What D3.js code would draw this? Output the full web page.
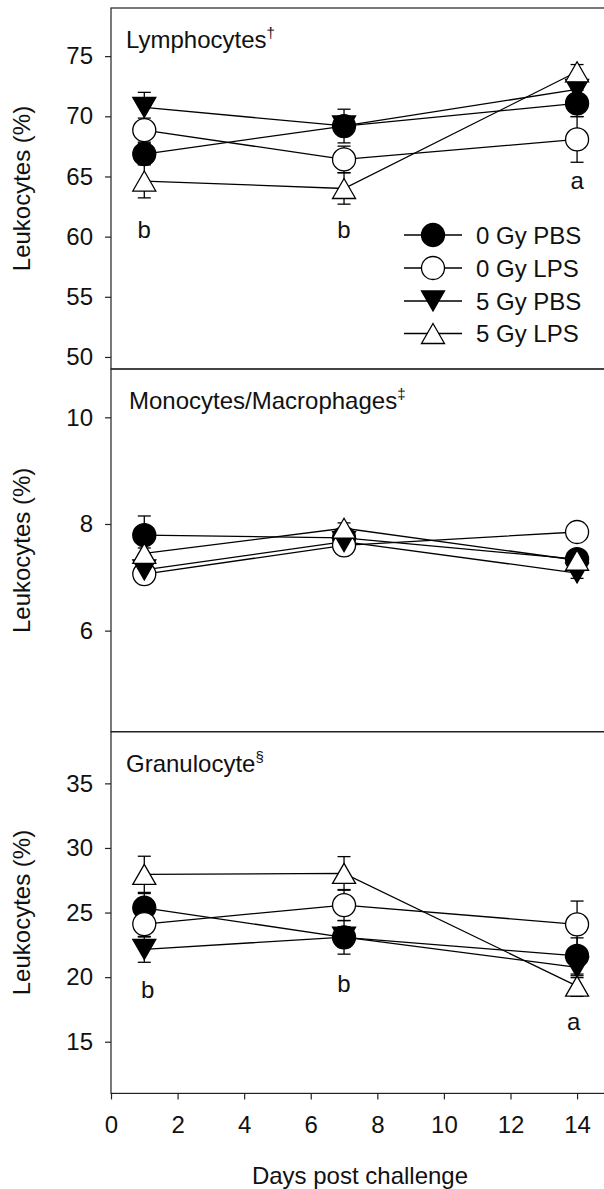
<!DOCTYPE html>
<html>
<head>
<meta charset="utf-8">
<script src="https://cdn.jsdelivr.net/npm/d3@7"></script>
<style>
  html, body { margin: 0; padding: 0; background: #fff; }
  svg { display: block; }
  text { font-family: "Liberation Sans", Arial, Helvetica, sans-serif; fill: #111; }
</style>
</head>
<body>
<svg id="chart" width="604" height="1189"></svg>
<script>
// ---- data -------------------------------------------------------------
const days = [1, 7, 14];
const groups = ["0 Gy PBS", "0 Gy LPS", "5 Gy PBS", "5 Gy LPS"];
const groupFill = ["#000", "#fff", "#000", "#fff"];
const groupShape = ["circle", "circle", "triDown", "triUp"];

// Lymphocytes (% of leukocytes), mean and SE per group, days 1 / 7 / 14
const lymphMean = [
  [66.86, 69.19, 71.07],
  [68.85, 66.42, 68.08],
  [70.74, 69.20, 72.23],
  [64.62, 64.00, 73.70]
];
const lymphSE = [
  [0.9, 1.4, 1.1],
  [1.0, 1.1, 1.9],
  [1.25, 0.8, 1.0],
  [1.4, 1.3, 0.6]
];

// Monocytes / macrophages
const monoMean = [
  [7.79, 7.74, 7.34],
  [7.06, 7.60, 7.85],
  [7.14, 7.67, 7.08],
  [7.45, 7.92, 7.32]
];
const monoSE = [
  [0.36, 0.1, 0.1],
  [0.1, 0.1, 0.1],
  [0.1, 0.1, 0.1],
  [0.1, 0.1, 0.1]
];

// Granulocytes
const granMean = [
  [25.37, 23.08, 21.64],
  [24.11, 25.58, 24.09],
  [22.15, 23.10, 20.76],
  [27.96, 28.03, 19.31]
];
const granSE = [
  [1.1, 1.3, 1.4],
  [1.0, 1.2, 1.8],
  [1.0, 0.8, 0.8],
  [1.4, 1.3, 0.8]
];

// axis ticks
const lymphTicks = [50, 55, 60, 65, 70, 75];
const monoTicks = [6, 8, 10];
const granTicks = [15, 20, 25, 30, 35];
const dayTicks = [0, 2, 4, 6, 8, 10, 12, 14];

// significance letters: [day, value, letter]
const lymphLetters = [[1, 59.9, "b"], [7, 59.9, "b"], [14, 64.0, "a"]];
const granLetters = [[1.1, 18.4, "b"], [7, 18.85, "b"], [13.9, 15.9, "a"]];

// ---- layout -----------------------------------------------------------
const svg = d3.select("#chart");
const left = 111, right = 603.7;
const x = d3.scaleLinear().domain([0, 14.8]).range([left, right]);

const panels = [
  { title: "Lymphocytes", sup: "\u2020", top: 8, bottom: 369, domain: [49, 79],
    ticks: lymphTicks, mean: lymphMean, se: lymphSE, letters: lymphLetters },
  { title: "Monocytes/Macrophages", sup: "\u2021", top: 369, bottom: 731.7, domain: [4.105, 10.906],
    ticks: monoTicks, mean: monoMean, se: monoSE, letters: [] },
  { title: "Granulocyte", sup: "\u00a7", top: 731.7, bottom: 1093.4, domain: [11, 39],
    ticks: granTicks, mean: granMean, se: granSE, letters: granLetters }
];

const R = 11.5;          // circle radius
const TW = 23, TH = 20;  // triangle width / height
const CAP = 6.5;         // half width of error-bar caps

function symbolPath(shape) {
  if (shape === "circle") return null;
  if (shape === "triUp") return `M0,${-TH / 2}L${TW / 2},${TH / 2}L${-TW / 2},${TH / 2}Z`;
  return `M0,${TH / 2}L${TW / 2},${-TH / 2}L${-TW / 2},${-TH / 2}Z`;
}

function drawMarker(g, shape, fill, cx, cy) {
  if (shape === "circle") {
    g.append("circle").attr("cx", cx).attr("cy", cy).attr("r", R)
      .attr("fill", fill).attr("stroke", "#000").attr("stroke-width", 1.3);
  } else {
    g.append("path").attr("d", symbolPath(shape))
      .attr("transform", `translate(${cx},${cy})`)
      .attr("fill", fill).attr("stroke", "#000").attr("stroke-width", 1.3)
      .attr("stroke-linejoin", "miter");
  }
}

panels.forEach((p, pi) => {
  const y = d3.scaleLinear().domain(p.domain).range([p.bottom, p.top]);
  const g = svg.append("g");

  // frame
  g.append("rect").attr("x", left).attr("y", p.top)
    .attr("width", right - left + 2).attr("height", p.bottom - p.top)
    .attr("fill", "none").attr("stroke", "#222").attr("stroke-width", 1.2);

  // y axis
  const ya = g.append("g").attr("transform", `translate(${left},0)`)
    .call(d3.axisLeft(y).tickValues(p.ticks).tickSize(6).tickPadding(12).tickFormat(d3.format("d")));
  ya.select(".domain").remove();
  ya.selectAll(".tick line").attr("stroke", "#222").attr("stroke-width", 1.2);
  ya.selectAll(".tick text").attr("font-size", 24)
    .attr("font-family", '"Liberation Sans", Arial, sans-serif').attr("fill", "#111");

  // y axis title
  g.append("text")
    .attr("transform", `translate(30,${(p.top + p.bottom) / 2}) rotate(-90)`)
    .attr("text-anchor", "middle").attr("font-size", 24)
    .text("Leukocytes (%)");

  // panel title
  const t = g.append("text").attr("x", 126 + (pi === 1 ? 3 : 0)).attr("y", p.top + 40)
    .attr("font-size", 24);
  t.append("tspan").text(p.title);
  t.append("tspan").attr("font-size", 15).attr("dy", -10).text(p.sup);

  // connecting lines
  const line = d3.line().x((d, i) => x(days[i])).y(d => y(d));
  p.mean.forEach(vals => {
    g.append("path").attr("d", line(vals)).attr("fill", "none")
      .attr("stroke", "#000").attr("stroke-width", 1.3);
  });

  // error bars
  p.mean.forEach((vals, si) => {
    vals.forEach((v, i) => {
      const e = p.se[si][i];
      const cx = x(days[i]);
      const y0 = y(v - e), y1 = y(v + e);
      g.append("line").attr("x1", cx).attr("x2", cx).attr("y1", y0).attr("y2", y1)
        .attr("stroke", "#000").attr("stroke-width", 1.3);
      [y0, y1].forEach(yy => g.append("line")
        .attr("x1", cx - CAP).attr("x2", cx + CAP).attr("y1", yy).attr("y2", yy)
        .attr("stroke", "#000").attr("stroke-width", 1.3));
    });
  });

  // markers
  p.mean.forEach((vals, si) => {
    vals.forEach((v, i) => drawMarker(g, groupShape[si], groupFill[si], x(days[i]), y(v)));
  });

  // significance letters
  p.letters.forEach(([d, v, s]) => {
    g.append("text").attr("x", x(d)).attr("y", y(v))
      .attr("text-anchor", "middle").attr("font-size", 24).text(s);
  });

  // x axis on the bottom panel
  if (pi === panels.length - 1) {
    const xa = g.append("g").attr("transform", `translate(0,${p.bottom})`)
      .call(d3.axisBottom(x).tickValues(dayTicks).tickSize(6).tickPadding(16.5).tickFormat(d3.format("d")));
    xa.select(".domain").remove();
    xa.selectAll(".tick line").attr("stroke", "#222").attr("stroke-width", 1.2);
    xa.selectAll(".tick text").attr("font-size", 24)
      .attr("font-family", '"Liberation Sans", Arial, sans-serif').attr("fill", "#111");
  }
});

// x axis title
svg.append("text").attr("x", 360).attr("y", 1184).attr("text-anchor", "middle")
  .attr("font-size", 24).text("Days post challenge");

// legend
const legend = svg.append("g");
const legendRows = [235, 268, 301, 333.5];
groups.forEach((name, i) => {
  const cy = legendRows[i];
  legend.append("line").attr("x1", 404).attr("x2", 462).attr("y1", cy).attr("y2", cy)
    .attr("stroke", "#000").attr("stroke-width", 1.3);
  drawMarker(legend, groupShape[i], groupFill[i], 433, cy);
  legend.append("text").attr("x", 476).attr("y", cy + 8.5).attr("font-size", 24).text(name);
});
</script>
</body>
</html>
